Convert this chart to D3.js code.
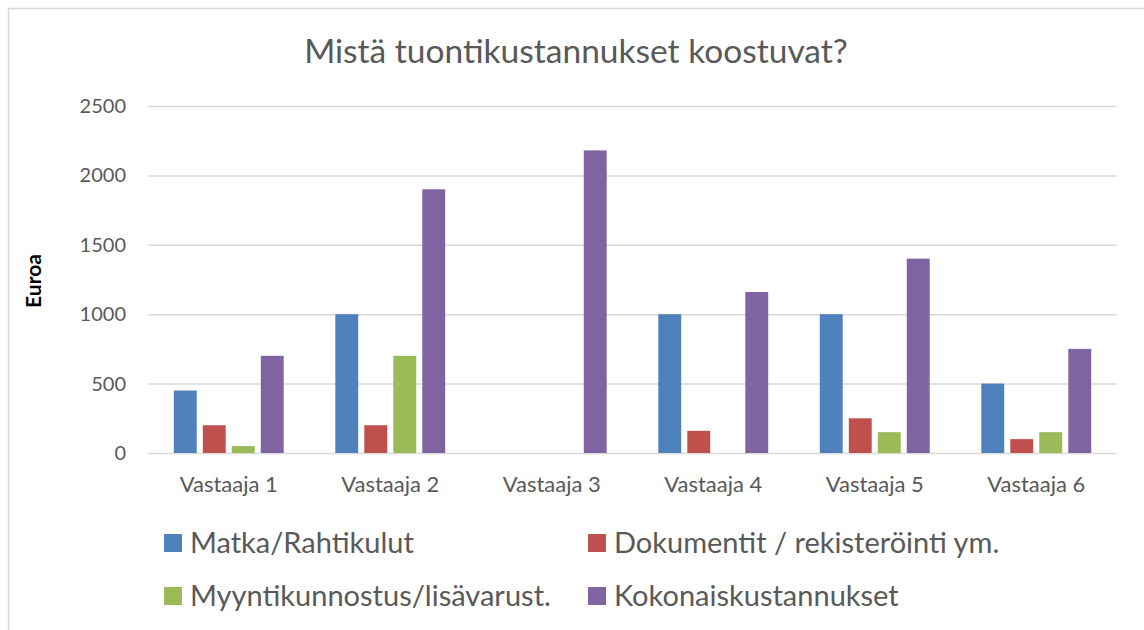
<!DOCTYPE html>
<html>
<head>
<meta charset="utf-8">
<script src="https://cdn.jsdelivr.net/npm/d3@7"></script>
<style>
  body { margin: 0; background: #fff; }
  svg text { font-family: Lato, "Open Sans", sans-serif; fill: #595959; }
</style>
</head>
<body>
<div id="chart"></div>
<script>
var w = 1144, h = 630;

// data
var categories = ["Vastaaja 1", "Vastaaja 2", "Vastaaja 3", "Vastaaja 4", "Vastaaja 5", "Vastaaja 6"];
var seriesNames = ["Matka/Rahtikulut", "Dokumentit / rekisteröinti ym.", "Myyntikunnostus/lisävarust.", "Kokonaiskustannukset"];
var matka = [450, 1000, 0, 1000, 1000, 500];
var dokumentit = [200, 200, 0, 160, 250, 100];
var myynti = [50, 700, 0, 0, 150, 150];
var kokonais = [700, 1900, 2180, 1160, 1400, 750];
var yTicks = [0, 500, 1000, 1500, 2000, 2500];
var colors = ["#4F81BD", "#C0504D", "#9BBB59", "#8064A2"];

var seriesValues = [matka, dokumentit, myynti, kokonais];

var svg = d3.select("#chart").append("svg")
    .attr("width", w).attr("height", h);

// chart area frame (only top and left edges visible)
svg.append("path")
    .attr("d", "M8.5," + h + "V8.5H" + w)
    .attr("fill", "none")
    .attr("stroke", "#D9D9D9")
    .attr("stroke-width", 1.5);

var plotLeft = 148, plotRight = 1117, plotTop = 106, plotBottom = 453;

var x0 = d3.scaleBand().domain(categories).range([plotLeft, plotRight]).padding(0);
var x1 = d3.scaleBand().domain(d3.range(seriesNames.length))
    .range([0, x0.bandwidth()])
    .paddingInner(0.21).paddingOuter(0.89);
var y = d3.scaleLinear().domain([0, 2500]).range([plotBottom, plotTop]);

// title
svg.append("text")
    .attr("x", 576)
    .attr("y", 63)
    .attr("text-anchor", "middle")
    .attr("font-size", 33.5)
    .text("Mistä tuontikustannukset koostuvat?");

// y axis + gridlines
var yAxis = svg.append("g")
    .attr("transform", "translate(" + plotLeft + ",0)")
    .call(d3.axisLeft(y).tickValues(yTicks).tickFormat(d3.format("d"))
        .tickSize(-(plotRight - plotLeft)).tickPadding(22));
yAxis.select(".domain").remove();
yAxis.selectAll(".tick line").attr("stroke", "#D9D9D9").attr("stroke-width", 1.5);
yAxis.selectAll(".tick text").attr("font-size", 20).attr("font-family", null);

// x axis labels
var xAxis = svg.append("g")
    .attr("transform", "translate(0," + plotBottom + ")")
    .call(d3.axisBottom(x0).tickSize(0).tickPadding(23));
xAxis.select(".domain").remove();
xAxis.selectAll(".tick text").attr("font-size", 22).attr("font-family", null);

// y axis title
svg.append("text")
    .attr("transform", "translate(41,281) rotate(-90)")
    .attr("text-anchor", "middle")
    .attr("font-size", 21)
    .attr("font-weight", "bold")
    .style("fill", "#000")
    .text("Euroa");

// bars
var groups = svg.append("g").selectAll("g.cat")
    .data(categories)
    .enter().append("g")
    .attr("class", "cat")
    .attr("transform", d => "translate(" + x0(d) + ",0)");

groups.selectAll("rect")
    .data((d, i) => seriesValues.map((vals, s) => ({ s: s, v: vals[i] })))
    .enter().append("rect")
    .attr("x", d => x1(d.s))
    .attr("width", x1.bandwidth())
    .attr("y", d => y(d.v))
    .attr("height", d => plotBottom - y(d.v))
    .attr("fill", d => colors[d.s]);

// legend
var legendPos = [[164, 543], [588, 543], [164, 596], [588, 596]];
var legend = svg.append("g").selectAll("g")
    .data(seriesNames)
    .enter().append("g")
    .attr("transform", (d, i) => "translate(" + legendPos[i][0] + "," + legendPos[i][1] + ")");
legend.append("rect")
    .attr("x", 0).attr("y", -9).attr("width", 18).attr("height", 18)
    .attr("fill", (d, i) => colors[i]);
legend.append("text")
    .attr("x", 26).attr("y", 0)
    .attr("dy", "0.35em")
    .attr("font-size", 29)
    .text(d => d);
</script>
</body>
</html>
